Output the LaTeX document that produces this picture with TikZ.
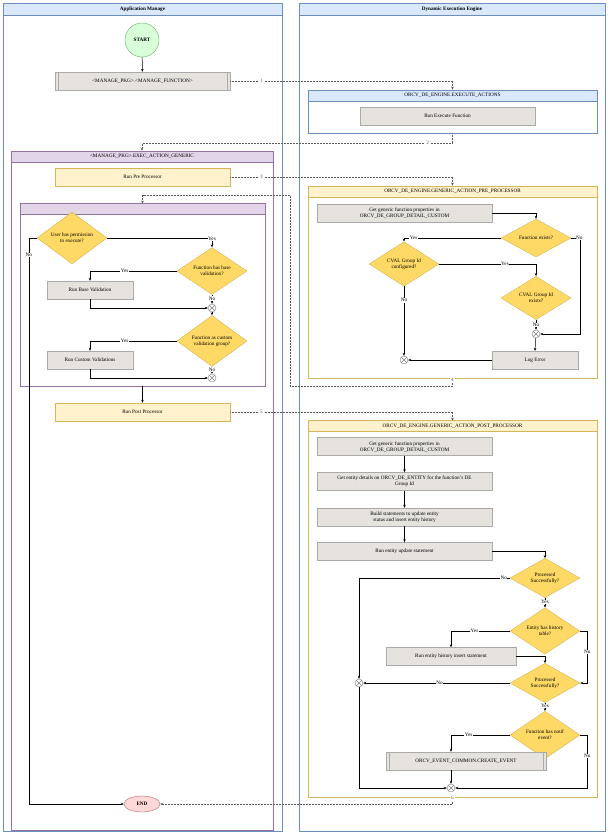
\documentclass[tikz,border=0pt]{standalone}
\usepackage{fontspec}
\setmainfont{Liberation Serif}
\usetikzlibrary{arrows.meta, positioning, shapes.geometric}
\newcommand{\dfont}{\fontsize{5.2}{6.0}\selectfont}
\definecolor{lanebd}{RGB}{108,142,191}
\definecolor{lanefill}{RGB}{218,232,252}
\definecolor{grayfill}{RGB}{230,227,223}
\definecolor{graybd}{RGB}{170,170,170}
\definecolor{goldfill}{RGB}{255,217,102}
\definecolor{goldbd}{RGB}{214,182,86}
\definecolor{yelfill}{RGB}{255,242,204}
\definecolor{purfill}{RGB}{225,213,231}
\definecolor{purbd}{RGB}{150,115,166}
\begin{document}
\begin{tikzpicture}[x=1pt, y=-1pt, font=\dfont,
    lane/.style={draw=lanebd, line width=0.8pt, minimum height=828pt, inner sep=0},
    lanehead/.style={draw=lanebd, line width=0.8pt, fill=lanefill, minimum height=12pt, inner sep=0, font=\dfont\bfseries},
    frame/.style={draw=#1, line width=0.5pt, fill=white, inner sep=0},
    framehead/.style={draw=#1, line width=0.5pt, minimum height=11pt, inner sep=0},
    block/.style={draw=graybd, fill=grayfill, minimum width=175pt, minimum height=18pt, align=center, inner sep=1pt},
    yblock/.style={draw=goldbd, fill=yelfill, minimum width=175pt, minimum height=18pt, align=center},
    sub/.style={block, path picture={\draw[graybd] ([xshift=3pt]path picture bounding box.north west) -- ([xshift=3pt]path picture bounding box.south west) ([xshift=-3pt]path picture bounding box.north east) -- ([xshift=-3pt]path picture bounding box.south east);}},
    decision/.style={diamond, draw=goldbd, fill=goldfill, minimum width=70pt, minimum height=38pt, inner sep=0, align=center},
    xor/.style={circle, draw=gray, fill=white, minimum size=8pt, inner sep=0, path picture={\draw[gray] (path picture bounding box.north west) -- (path picture bounding box.south east) (path picture bounding box.north east) -- (path picture bounding box.south west);}},
    arrow/.style={-{Stealth[length=3pt, width=2.5pt]}, line width=0.5pt},
    link/.style={arrow, densely dotted, gray!70!black},
    lbl/.style={fill=white, inner sep=0.5pt, font=\dfont},
    num/.style={fill=white, inner sep=1pt, font=\dfont}
]
    \useasboundingbox (0,0) rectangle (608,835);

    % Lanes
    \node[lane, minimum width=279pt] (appl) at (142.5,417) {};
    \node[lanehead, minimum width=279pt] (applh) at (142.5,9) {Application Manage};
    \node[lane, minimum width=306pt] (dee) at (452,417) {};
    \node[lanehead, minimum width=306pt] (deeh) at (452,9) {Dynamic Execution Engine};

    % Containers
    \node[frame=purbd, minimum width=262pt, minimum height=679pt] (eag) at (142,490.5) {};
    \node[framehead=purbd, fill=purfill, minimum width=262pt] (eagh) at (142,156.5) {<MANAGE\_PKG>.EXEC\_ACTION\_GENERIC};
    \node[frame=purbd, minimum width=245pt, minimum height=182pt] (inner) at (142.5,295) {};
    \node[framehead=purbd, fill=purfill, minimum width=245pt] (innerh) at (142.5,209) {};
    \node[frame=lanebd, minimum width=289pt, minimum height=43pt] (exa) at (452.5,111.5) {};
    \node[framehead=lanebd, fill=lanefill, minimum width=289pt] (exah) at (452.5,95.5) {ORCV\_DE\_ENGINE.EXECUTE\_ACTIONS};
    \node[frame=goldbd, minimum width=289pt, minimum height=192pt] (ppc) at (452.5,282) {};
    \node[framehead=goldbd, fill=yelfill, minimum width=289pt] (ppch) at (452.5,191.5) {ORCV\_DE\_ENGINE.GENERIC\_ACTION\_PRE\_PROCESSOR};
    \node[frame=goldbd, minimum width=289pt, minimum height=376pt] (poc) at (452.5,609) {};
    \node[framehead=goldbd, fill=yelfill, minimum width=289pt] (poch) at (452.5,426) {ORCV\_DE\_ENGINE.GENERIC\_ACTION\_POST\_PROCESSOR};

    % Application Manage
    \node[circle, draw=green!50!black!60, fill=green!15, minimum size=34pt, inner sep=0, font=\dfont\bfseries] (start) at (142,40) {START};
    \node[sub] (mf) at (142.5,81) {<MANAGE\_PKG>.<MANAGE\_FUNCTION>};
    \node[yblock] (pre) at (142.5,177) {Run Pre Processor};
    \node[decision] (d1) at (72,238) {User has permission\\to execute?};
    \node[decision] (d2) at (212,271) {Function has base\\validation?};
    \node[block, minimum width=86pt] (rbv) at (90,290) {Run Base Validation};
    \node[xor] (x1) at (212,308) {};
    \node[decision] (d3) at (212,341) {Function as custom\\validation group?};
    \node[block, minimum width=86pt] (rcv) at (90,360) {Run Custom Validations};
    \node[xor] (x2) at (212,378) {};
    \node[yblock] (post) at (142.5,412) {Run Post Processor};
    \node[ellipse, draw=red!50!black!60, fill=red!15, minimum width=36pt, minimum height=16pt, inner sep=0, font=\dfont\bfseries] (endn) at (142,804) {END};

    % Execute actions
    \node[block] (ref) at (447.5,116) {Run Execute Function};

    % Pre processor
    \node[block] (gg) at (404.5,213) {Get generic function properties in\\ORCV\_DE\_GROUP\_DETAIL\_CUSTOM};
    \node[decision] (fe) at (536,238) {Function exists?};
    \node[decision] (cc) at (404,264) {CVAL Group Id\\configured?};
    \node[decision] (ce) at (536,298) {CVAL Group Id\\exists?};
    \node[xor] (x3) at (536,334) {};
    \node[block, minimum width=86pt] (le) at (535,360) {Log Error};
    \node[xor] (x4) at (404,360) {};

    % Post processor
    \node[block] (b1) at (404.5,446.5) {Get generic function properties in\\ORCV\_DE\_GROUP\_DETAIL\_CUSTOM};
    \node[block] (b2) at (404.5,481.5) {Get entity details on ORCV\_DE\_ENTITY for the function's DE\\Group Id};
    \node[block] (b3) at (404.5,517) {Build statements to update entity\\status and insert entity history};
    \node[block] (b4) at (404.5,551.5) {Run entity update statement};
    \node[decision, minimum height=34pt] (ps1) at (545,578) {Processed\\Successfully?};
    \node[decision, minimum height=34pt] (eh) at (545,631) {Entity has history\\table?};
    \node[block, minimum width=130pt] (rh) at (451,656.5) {Run entity history insert statement};
    \node[decision, minimum height=34pt] (ps2) at (545,683) {Processed\\Successfully?};
    \node[decision, minimum height=34pt] (ne) at (545,735) {Function has notif\\event?};
    \node[sub, minimum width=160pt] (ce2) at (466,761) {ORCV\_EVENT\_COMMON.CREATE\_EVENT};
    \node[xor] (x5) at (359,683) {};
    \node[xor] (x6) at (451,788) {};

    % Links between lanes
    \draw[link] (mf.east) -| node[num, pos=0.07] {1} (exa.north);
    \draw[link] (exa.south) -- ++(0,10) -| node[num, pos=0.04] {2} (eag.north);
    \draw[link] (pre.east) -| node[num, pos=0.07] {3} (ppc.north);
    \draw[link] (ppc.south) |- node[num, pos=0.12] {4} (290,386) -- (290,195) -| (inner.north);
    \draw[link] (post.east) -| node[num, pos=0.07] {5} (poc.north);
    \draw[link] (poc.south) |- node[num, pos=0.07] {6} (endn.east);

    % Application Manage flow
    \draw[arrow] (start) -- (mf);
    \draw[arrow] (d1.east) -| node[lbl, pos=0.55] {Yes} (d2.north);
    \draw[arrow] (d1.west) -- ++(-8,0) |- node[lbl, pos=0.015] {No} (endn.west);
    \draw[arrow] (d2.west) -| node[lbl, pos=0.3] {Yes} (rbv.north);
    \draw[arrow] (d2.south) -- node[lbl, pos=0.4] {No} (x1);
    \draw[arrow] (rbv.south) |- (x1.west);
    \draw[arrow] (x1) -- (d3.north);
    \draw[arrow] (d3.west) -| node[lbl, pos=0.3] {Yes} (rcv.north);
    \draw[arrow] (d3.south) -- node[lbl, pos=0.4] {No} (x2);
    \draw[arrow] (rcv.south) |- (x2.west);
    \draw[arrow] (inner.south) -- (post);

    % Pre processor flow
    \draw[arrow] (gg.east) -| (fe.north);
    \draw[arrow] (fe.west) -| node[lbl, pos=0.45] {Yes} (cc.north);
    \draw[arrow] (fe.east) -- node[lbl, pos=0.9] {No} ++(9,0) |- (x3.east);
    \draw[arrow] (cc.east) -| node[lbl, pos=0.34] {Yes} (ce.north);
    \draw[arrow] (cc.south) -- node[lbl, pos=0.2] {No} (x4);
    \draw[arrow] (ce.south) -- node[lbl, pos=0.5] {No} (x3);
    \draw[arrow] (x3) -- (le.north);
    \draw[arrow] (le.west) -- (x4);

    % Post processor flow
    \draw[arrow] (b1) -- (b2);
    \draw[arrow] (b2) -- (b3);
    \draw[arrow] (b3) -- (b4);
    \draw[arrow] (b4.east) -| (ps1.north);
    \draw[arrow] (ps1.west) -| node[lbl, pos=0.02] {No} (x5.north);
    \draw[arrow] (ps1.south) -- node[lbl, pos=0.4] {Yes} (eh.north);
    \draw[arrow] (eh.west) -| node[lbl, pos=0.3] {Yes} (rh.north);
    \draw[arrow] (eh.east) -- ++(7,0) |- node[lbl, pos=0.2] {No} (ps2.east);
    \draw[arrow] (rh.east) -| (ps2.north);
    \draw[arrow] (ps2.west) -- node[lbl, pos=0.48] {No} (x5);
    \draw[arrow] (ps2.south) -- node[lbl, pos=0.4] {Yes} (ne.north);
    \draw[arrow] (ne.west) -| node[lbl, pos=0.35] {Yes} ([xshift=-15pt]ce2.north);
    \draw[arrow] (ne.east) -- ++(7,0) |- node[lbl, pos=0.2] {No} (x6.east);
    \draw[arrow] ([xshift=-15pt]ce2.south) -- (x6);
    \draw[arrow] (x5.south) |- (x6.west);
\end{tikzpicture}
\end{document}
